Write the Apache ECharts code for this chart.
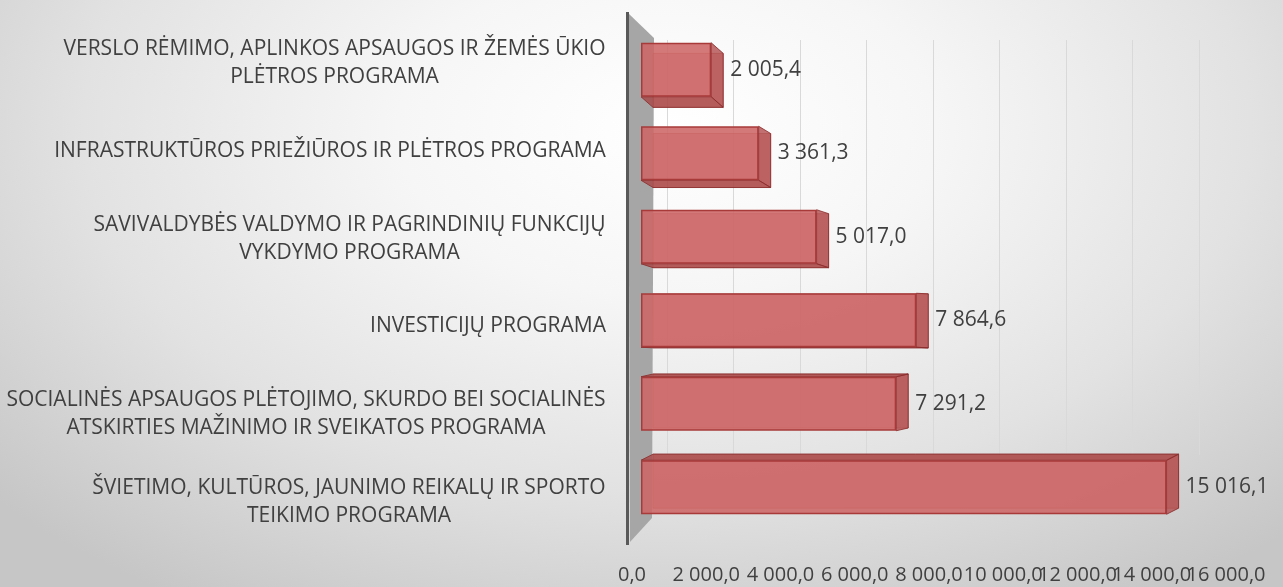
<!DOCTYPE html>
<html>
<head>
<meta charset="utf-8">
<script src="https://cdn.jsdelivr.net/npm/echarts@6/dist/echarts.min.js"></script>
<style>
  html, body { margin: 0; padding: 0; }
  #chart {
    width: 1283px; height: 587px;
    background: radial-gradient(ellipse 70% 95% at 52% 22%, #ffffff 0%, #f6f6f6 30%, #e2e2e2 65%, #c6c6c6 100%);
  }
</style>
</head>
<body>
<div id="chart"></div>
<script>
// ---- data ----
var categories = [
  "ŠVIETIMO, KULTŪROS, JAUNIMO REIKALŲ IR SPORTO\nTEIKIMO PROGRAMA",
  "SOCIALINĖS APSAUGOS PLĖTOJIMO, SKURDO BEI SOCIALINĖS\nATSKIRTIES MAŽINIMO IR SVEIKATOS PROGRAMA",
  "INVESTICIJŲ PROGRAMA",
  "SAVIVALDYBĖS VALDYMO IR PAGRINDINIŲ FUNKCIJŲ\nVYKDYMO PROGRAMA",
  "INFRASTRUKTŪROS PRIEŽIŪROS IR PLĖTROS PROGRAMA",
  "VERSLO RĖMIMO, APLINKOS APSAUGOS IR ŽEMĖS ŪKIO\nPLĖTROS PROGRAMA"
];
var values = [15016.1, 7291.2, 7864.6, 5017.0, 3361.3, 2005.4];
var axisMin = 0, axisMax = 16000, axisStep = 2000;

// ---- helpers ----
function fmt(v) {
  var s = v.toFixed(1).replace('.', ',');
  var parts = s.split(',');
  parts[0] = parts[0].replace(/\B(?=(\d{3})+(?!\d))/g, ' ');
  return parts.join(',');
}
var FONT_FAMILY = '"Open Sans", "Noto Sans", sans-serif';
var CAT_SIZE = 21;
var BAR_H = 54;
var ctx = document.createElement('canvas').getContext('2d');
ctx.font = CAT_SIZE + 'px ' + FONT_FAMILY;
var rich = {};
categories.forEach(function (c, i) {
  var w = 0;
  c.split('\n').forEach(function (l) { w = Math.max(w, ctx.measureText(l).width); });
  rich['c' + i] = { width: Math.ceil(w) + 2, align: 'center', fontSize: CAT_SIZE, fontFamily: FONT_FAMILY, color: '#404040', lineHeight: 28 };
});

// depth faces of the pseudo-3D bars
function renderDepth(params, api) {
  var v = api.value(0), idx = api.value(1);
  var s = api.coord([0, idx]);
  var e = api.coord([v, idx]);
  var x0 = s[0], x1 = e[0], yc = s[1];
  var y0 = yc - BAR_H / 2, y1 = yc + BAR_H / 2;
  var dx = 12, dy = (335 - yc) * 0.04;
  var side = 'rgba(168,70,70,0.8)';
  var edge = 'rgba(140,45,45,0.85)';
  var children = [
    { type: 'rect', shape: { x: x0 + dx, y: y0 + dy, width: x1 - x0, height: BAR_H },
      style: { fill: 'rgba(200,95,95,0.45)', stroke: 'rgba(150,55,55,0.5)', lineWidth: 1 } },
    { type: 'polygon', shape: { points: [[x1, y0], [x1 + dx, y0 + dy], [x1 + dx, y1 + dy], [x1, y1]] },
      style: { fill: 'rgba(178,78,78,0.8)', stroke: edge, lineWidth: 1 } }
  ];
  if (dy < 0) {
    children.push({ type: 'polygon', shape: { points: [[x0, y0], [x0 + dx, y0 + dy], [x1 + dx, y0 + dy], [x1, y0]] },
      style: { fill: side, stroke: edge, lineWidth: 1 } });
  } else {
    children.push({ type: 'polygon', shape: { points: [[x0, y1], [x0 + dx, y1 + dy], [x1 + dx, y1 + dy], [x1, y1]] },
      style: { fill: side, stroke: edge, lineWidth: 1 } });
  }
  return { type: 'group', children: children };
}

function labelAxis(even) {
  return {
    gridIndex: 1, type: 'value', min: axisMin, max: axisMax, interval: axisStep,
    position: 'bottom', offset: 0,
    axisLine: { show: false }, axisTick: { show: false }, splitLine: { show: false },
    axisLabel: {
      margin: 2, color: '#404040', fontSize: 20, fontFamily: FONT_FAMILY,
      showMinLabel: true, showMaxLabel: true, hideOverlap: false,
      formatter: function (v) {
        var isEven = Math.round(v / axisStep) % 2 === 0;
        return isEven === even ? fmt(v) : '';
      }
    }
  };
}

var chart = echarts.init(document.getElementById('chart'), null, { renderer: 'canvas' });
chart.setOption({
  backgroundColor: 'transparent',
  animation: false,
  grid: [
    { left: 641, width: 560, top: 28, height: 501 },   // bars (front plane)
    { left: 632, width: 594, top: 562, height: 1 },     // value-axis labels (floor edge)
    { left: 667, width: 532, top: 40, height: 415 },    // back-wall gridlines
    { left: 641, width: 560, top: 19, height: 527 }     // category labels
  ],
  xAxis: [
    {
      gridIndex: 0, type: 'value', min: axisMin, max: axisMax, interval: axisStep,
      axisLabel: { show: false }, axisLine: { show: false }, axisTick: { show: false },
      splitLine: { show: false }
    },
    labelAxis(true),
    {
      gridIndex: 2, type: 'value', min: axisMin, max: axisMax, interval: axisStep,
      axisLabel: { show: false }, axisLine: { show: false }, axisTick: { show: false },
      splitLine: { show: true, lineStyle: { color: '#d9d9d9', width: 1 } }
    },
    {
      gridIndex: 3, type: 'value', min: axisMin, max: axisMax, show: false
    },
    labelAxis(false)
  ],
  yAxis: [
    { gridIndex: 0, type: 'category', data: categories, show: false },
    { gridIndex: 1, type: 'category', data: [''], show: false },
    { gridIndex: 2, type: 'category', data: categories, show: false },
    {
      gridIndex: 3, type: 'category', data: categories,
      axisLine: { show: false }, axisTick: { show: false }, splitLine: { show: false },
      axisLabel: {
        margin: 34, rich: rich,
        formatter: function (v) {
          var i = categories.indexOf(v);
          return v.split('\n').map(function (l) { return '{c' + i + '|' + l + '}'; }).join('\n');
        }
      }
    }
  ],
  graphic: [
    {
      type: 'polygon', silent: true, z: 1,
      shape: { points: [[628, 13], [654, 38], [652, 518], [630, 542]] },
      style: { fill: '#a6a6a6' }
    },
    {
      type: 'rect', silent: true, z: 2,
      shape: { x: 626, y: 12, width: 3, height: 533 },
      style: { fill: '#595959' }
    }
  ],
  series: [
    {
      type: 'custom', xAxisIndex: 0, yAxisIndex: 0, z: 4, silent: true,
      renderItem: renderDepth,
      encode: { x: 0, y: 1 },
      data: values.map(function (v, i) { return [v, i]; })
    },
    {
      type: 'bar', xAxisIndex: 0, yAxisIndex: 0, data: values, barWidth: BAR_H, z: 5,
      itemStyle: {
        color: 'rgba(206,102,102,0.88)',
        borderColor: '#a83a3a', borderWidth: 1.5
      },
      label: {
        show: true, position: 'right', distance: 19, color: '#404040',
        fontSize: 21, fontFamily: FONT_FAMILY,
        formatter: function (p) { return fmt(p.value); }
      }
    }
  ]
});
</script>
</body>
</html>
